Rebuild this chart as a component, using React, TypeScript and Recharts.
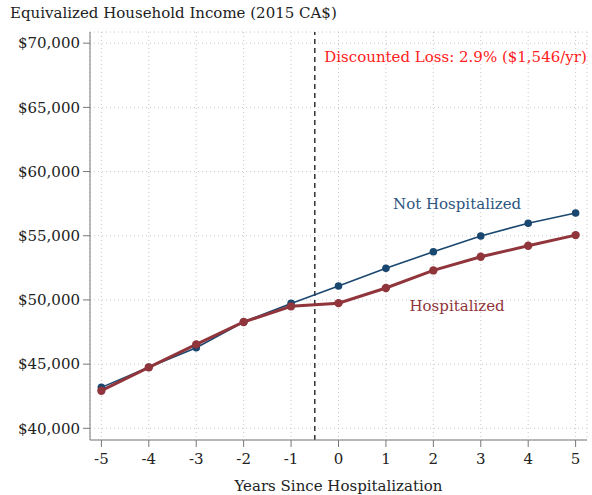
import { LineChart, Line, XAxis, YAxis, CartesianGrid, ReferenceLine, ReferenceDot } from 'recharts'

const years = [-5, -4, -3, -2, -1, 0, 1, 2, 3, 4, 5]
const notHospitalized = [43190, 44750, 46280, 48280, 49730, 51090, 52460, 53750, 54980, 55970, 56770]
const hospitalized = [42930, 44750, 46540, 48280, 49500, 49750, 50930, 52300, 53360, 54220, 55050]
const yTicks = [40000, 45000, 50000, 55000, 60000, 65000, 70000]

const data = years.map((year, i) => ({
  year,
  notHosp: notHospitalized[i],
  hosp: hospitalized[i],
}))

const FONT = 'DejaVu Serif, Liberation Serif, serif'
const FS = 15
const BLUE = '#1a476f'
const RED = '#90353b'

export default function App() {
  return (
    <div style={{ position: 'absolute', left: 0, top: 0, width: 592, height: 495, background: '#fff', fontFamily: FONT }}>
      <div style={{ position: 'absolute', left: 10, top: 4, fontSize: FS, color: '#222', whiteSpace: 'nowrap' }}>
        Equivalized Household Income (2015 CA$)
      </div>
      <LineChart width={592} height={495} data={data} margin={{ top: 32, right: 5, bottom: 0, left: 10 }}>
        <CartesianGrid stroke="#c8c8c8" strokeDasharray="1 3" />
        <XAxis
          dataKey="year"
          type="number"
          domain={[-5.24, 5.24]}
          ticks={years}
          allowDataOverflow
          height={55}
          tickSize={7}
          tickMargin={6}
          stroke="#777"
          tick={{ fill: '#222', fontSize: FS, fontFamily: FONT }}
          label={{ value: 'Years Since Hospitalization', position: 'insideBottom', offset: 4, fill: '#222', fontSize: FS, fontFamily: FONT }}
        />
        <YAxis
          type="number"
          domain={[39090, 70870]}
          ticks={yTicks}
          allowDataOverflow
          width={80}
          tickSize={7}
          tickMargin={3}
          stroke="#777"
          tick={{ fill: '#222', fontSize: FS, fontFamily: FONT }}
          tickFormatter={(v: number) => `$${v.toLocaleString('en-US')}`}
        />
        <ReferenceLine x={-0.5} stroke="#333" strokeWidth={1.5} strokeDasharray="5 4" />
        <Line
          type="linear"
          dataKey="notHosp"
          stroke={BLUE}
          strokeWidth={1.6}
          dot={{ r: 3.8, fill: BLUE, stroke: BLUE, strokeWidth: 0 }}
          isAnimationActive={false}
        />
        <Line
          type="linear"
          dataKey="hosp"
          stroke={RED}
          strokeWidth={3}
          dot={{ r: 4.2, fill: RED, stroke: RED, strokeWidth: 0 }}
          isAnimationActive={false}
        />
        <ReferenceDot
          x={-0.3}
          y={68920}
          r={0}
          fill="none"
          stroke="none"
          label={{ value: 'Discounted Loss: 2.9% ($1,546/yr)', position: 'right', offset: 0, fill: '#ff2020', fontSize: FS, fontFamily: FONT }}
        />
        <ReferenceDot
          x={2.5}
          y={57520}
          r={0}
          fill="none"
          stroke="none"
          label={{ value: 'Not Hospitalized', position: 'center', fill: '#2c5580', fontSize: FS, fontFamily: FONT }}
        />
        <ReferenceDot
          x={2.5}
          y={49525}
          r={0}
          fill="none"
          stroke="none"
          label={{ value: 'Hospitalized', position: 'center', fill: RED, fontSize: FS, fontFamily: FONT }}
        />
      </LineChart>
    </div>
  )
}
